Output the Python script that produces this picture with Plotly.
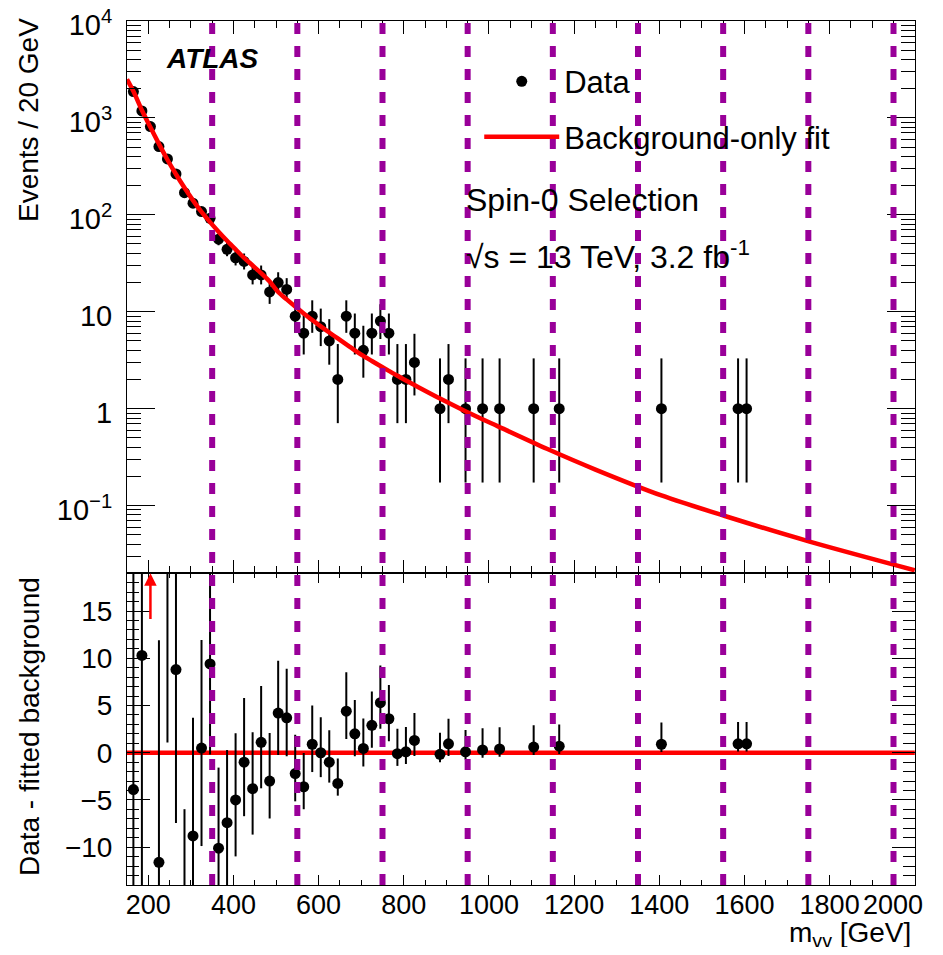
import math
import plotly.graph_objects as go

# ---------------- data ----------------
mass = [165, 185, 205, 225, 245, 265, 285, 305, 325, 345, 365, 385, 405, 425,
        445, 465, 485, 505, 525, 545, 565, 585, 605, 625, 645, 665, 685, 705,
        725, 745, 765, 785, 805, 825, 885, 905, 945, 985, 1025, 1105, 1165,
        1405, 1585, 1605]
counts = [1870, 1180, 815, 506, 377, 264, 169, 132, 108, 92, 56, 44, 36, 33,
          24, 24, 16, 20, 17, 9, 6, 9, 7, 5, 2, 9, 6, 4,
          6, 8, 6, 2, 2, 3, 1, 2, 1, 1, 1, 1, 1,
          1, 1, 1]
# data - fitted background (None: off scale, drawn as an arrow)
residual = [-3.9, 10.3, None, -11.6, 20.5, 8.8, -20.0, -8.8, 0.5, 9.4, -10.1, -7.4, -5.0, -1.0,
            -3.8, 1.1, -3.0, 4.2, 3.7, -2.2, -3.6, 0.9, 0.0, -1.0, -3.25, 4.4, 2.0, 0.46,
            2.9, 5.3, 3.6, -0.1, 0.1, 1.3, -0.17, 0.95, 0.1, 0.3, 0.4, 0.6, 0.7,
            0.9, 0.95, 0.95]

fit_mass = [150, 165, 185, 205, 225, 245, 265, 285, 305, 325, 345, 365, 385, 405,
            425, 445, 465, 485, 505, 525, 545, 565, 585, 605, 625, 645, 665, 685,
            705, 725, 745, 765, 785, 805, 825, 885, 947, 1020, 1136, 1250, 1405,
            1554, 1753, 2000]
fit_value = [2500, 1880, 1200, 800, 540, 370, 262, 190, 141, 107, 84, 67, 54, 44,
             36, 30, 25, 20.5, 16.0, 13.4, 11.3, 9.6, 8.2, 7.05, 6.1, 5.3, 4.6, 4.0,
             3.5, 3.1, 2.75, 2.45, 2.18, 1.95, 1.75, 1.27, 0.93, 0.66, 0.385, 0.235, 0.127,
             0.078, 0.0425, 0.0215]

signal_lines = [350, 550, 750, 950, 1150, 1350, 1550, 1750, 1950]
offscale_mass = [205]

x_ticks = [200, 400, 600, 800, 1000, 1200, 1400, 1600, 1800, 2000]
x_ticktext = ["200", "400", "600", "800", "1000", "1200", "1400", "1600", "1800", ""]
x_last_label = "2000"   # drawn pulled inside the frame, as ROOT does
y_ticks = [0.1, 1, 10, 100, 1000, 10000]
y_ticktext = ["10<sup>\u22121</sup>", "1", "10", "10<sup>2</sup>", "10<sup>3</sup>", "10<sup>4</sup>"]


# ---------------- Poisson (Garwood) 68% intervals ----------------
def pois_cdf(k, lam):
    if lam <= 0:
        return 1.0
    s = 0.0
    ll = math.log(lam)
    for i in range(k + 1):
        s += math.exp(-lam + i * ll - math.lgamma(i + 1))
    return min(s, 1.0)


def solve(k, target):
    lo, hi = 0.0, k + 20 * math.sqrt(k + 1) + 20
    for _ in range(60):
        mid = 0.5 * (lo + hi)
        if pois_cdf(k, mid) > target:
            lo = mid
        else:
            hi = mid
    return 0.5 * (lo + hi)


alpha = 0.158655
err_up, err_dn = [], []
for n in counts:
    up = solve(n, alpha) - n
    dn = n - solve(n - 1, 1 - alpha) if n > 0 else 0.0
    err_up.append(up)
    err_dn.append(dn)

res_x = [m for m, r in zip(mass, residual) if r is not None]
res_y = [r for r in residual if r is not None]
res_up = [e for e, r in zip(err_up, residual) if r is not None]
res_dn = [e for e, r in zip(err_dn, residual) if r is not None]

FONT = "Liberation Sans, Arial, Helvetica, sans-serif"
NARROW = "Liberation Sans Narrow, " + FONT
PURPLE = "#990099"

fig = go.Figure()

fig.add_trace(go.Scatter(
    x=mass, y=counts, mode="markers", name="Data",
    marker=dict(color="black", size=11),
    error_y=dict(type="data", symmetric=False, array=err_up, arrayminus=err_dn,
                 color="black", thickness=2, width=0),
    xaxis="x", yaxis="y", legendgroup="a",
))
fig.add_trace(go.Scatter(
    x=fit_mass, y=fit_value, mode="lines", name="Background-only fit",
    line=dict(color="#ff0000", width=4.5, shape="spline", smoothing=0.8),
    xaxis="x", yaxis="y", legendgroup="b",
))
fig.add_trace(go.Scatter(
    x=[150, 2000], y=[0, 0], mode="lines", showlegend=False,
    line=dict(color="#ff0000", width=4.5),
    xaxis="x2", yaxis="y2",
))
fig.add_trace(go.Scatter(
    x=res_x, y=res_y, mode="markers", showlegend=False,
    marker=dict(color="black", size=11),
    error_y=dict(type="data", symmetric=False, array=res_up, arrayminus=res_dn,
                 color="black", thickness=2, width=0),
    xaxis="x2", yaxis="y2",
))

shapes = []
for v in signal_lines:
    shapes.append(dict(type="line", xref="x", yref="paper", x0=v, x1=v, y0=0, y1=1,
                       line=dict(color=PURPLE, width=6, dash="11px,12px"), layer="above"))

annotations = [
    dict(text="<b><i>ATLAS</i></b>", xref="paper", yref="paper", x=0.047, y=0.957,
         xanchor="left", yanchor="middle", showarrow=False, font=dict(size=28, family=FONT, color="black")),
    dict(text="Spin-0 Selection", xref="paper", yref="paper", x=0.4276, y=0.7928,
         xanchor="left", yanchor="middle", showarrow=False, font=dict(size=32, family=FONT, color="black")),
    dict(text="\u221as = 13 TeV, 3.2 fb<sup>-1</sup>", xref="paper", yref="paper", x=0.4276, y=0.7292,
         xanchor="left", yanchor="middle", showarrow=False, font=dict(size=32, family=FONT, color="black")),
    dict(text="Events / 20 GeV", xref="paper", yref="paper", x=-0.1256, y=0.8854, textangle=-90,
         xanchor="center", yanchor="middle", showarrow=False, font=dict(size=28, family=FONT, color="black")),
    dict(text="Data - fitted background", xref="paper", yref="paper", x=-0.123, y=0.1829, textangle=-90,
         xanchor="center", yanchor="middle", showarrow=False, font=dict(size=28, family=FONT, color="black")),
    dict(text="m<sub>\u03b3\u03b3</sub> [GeV]", xref="paper", yref="paper", x=0.9975, y=-0.0578,
         xanchor="right", yanchor="middle", showarrow=False, font=dict(size=28, family=FONT, color="black")),
    dict(text=x_last_label, xref="x2", yref="paper", x=x_ticks[-1], y=-0.0035, xshift=-22,
         xanchor="center", yanchor="top", showarrow=False, font=dict(size=27, family=NARROW, color="black")),
]
for m in offscale_mass:
    annotations.append(dict(x=m, y=19, xref="x2", yref="y2", ax=m, ay=14, axref="x2", ayref="y2",
                            text="", showarrow=True, arrowhead=2, arrowsize=1, arrowwidth=2.5,
                            arrowcolor="#ff0000"))

axis_common = dict(showline=True, linecolor="black", linewidth=1, mirror="allticks",
                   ticks="inside", tickcolor="black", showgrid=False, zeroline=False,
                   automargin=False)

minor_log = [m * 10.0 ** e for e in range(-2, 4) for m in range(2, 10)]

# the page body adds an 8 px offset; keep the whole page inside the 943x955 window
fig.update_layout(
    width=927, height=939,
    margin=dict(l=119, r=20, t=13, b=62),
    paper_bgcolor="white", plot_bgcolor="white",
    font=dict(family=FONT, size=28, color="black"),
    showlegend=True,
    legend=dict(x=0.447, y=0.961, xanchor="left", yanchor="top", bgcolor="rgba(0,0,0,0)",
                font=dict(size=31, family=FONT), tracegroupgap=12, itemwidth=75),
    xaxis=dict(domain=[0, 1], anchor="y", range=[150, 2000.5], tick0=0, dtick=200,
               ticklen=13, showticklabels=False,
               minor=dict(ticks="inside", dtick=50, ticklen=7, tickcolor="black"), **axis_common),
    yaxis=dict(domain=[0.3608, 1], anchor="x", type="log", range=[math.log10(0.02), 4],
               tickvals=y_ticks, ticktext=y_ticktext, ticklen=28, ticklabelstandoff=8,
               ticklabelshift=4, ticklabeloverflow="allow",
               minor=dict(ticks="inside", tickvals=minor_log, ticklen=14, tickcolor="black"),
               tickfont=dict(size=29), **axis_common),
    xaxis2=dict(domain=[0, 1], anchor="y2", matches="x", range=[150, 2000.5],
                tickvals=x_ticks, ticktext=x_ticktext, ticklen=10, ticklabelstandoff=-4,
                ticklabeloverflow="allow",
                tickfont=dict(size=27, family=NARROW),
                minor=dict(ticks="inside", dtick=50, tick0=0, ticklen=5, tickcolor="black"), **axis_common),
    yaxis2=dict(domain=[0, 0.3608], anchor="x2", range=[-14, 19], tick0=0, dtick=5,
                ticklen=23, ticklabelstandoff=8, tickfont=dict(size=28),
                minor=dict(ticks="inside", dtick=1, ticklen=12, tickcolor="black"), **axis_common),
    shapes=shapes,
    annotations=annotations,
)

fig.write_html("out.html")
